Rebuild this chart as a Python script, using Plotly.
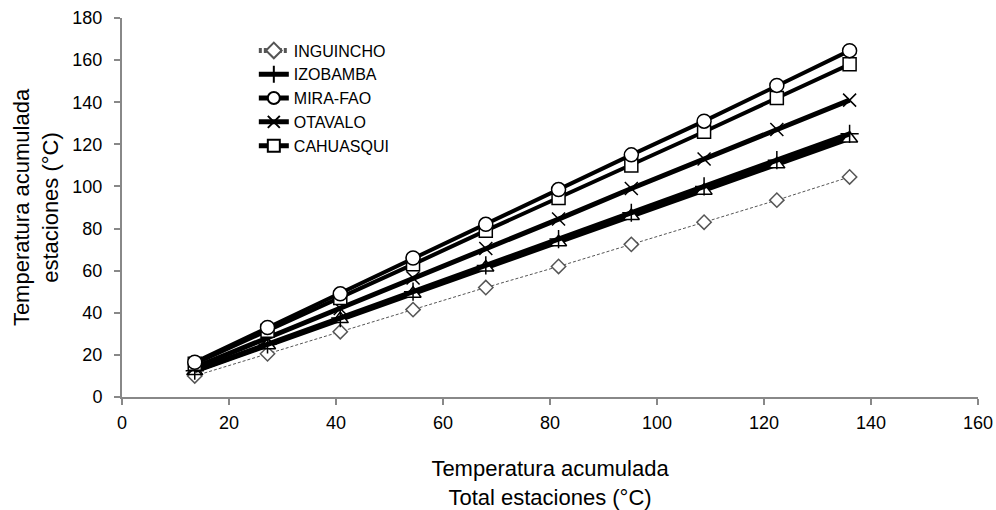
import plotly.graph_objects as go

x_vals = [13.6, 27.2, 40.8, 54.4, 68.0, 81.6, 95.2, 108.8, 122.4, 136.0]
inguincho = [10.0, 20.5, 31.0, 41.5, 52.0, 62.0, 72.5, 83.0, 93.5, 104.5]
izobamba = [12.5, 25.0, 37.5, 50.0, 62.5, 75.0, 87.5, 100.0, 112.5, 125.0]
mira_fao = [16.5, 33.0, 49.0, 66.0, 82.0, 98.5, 115.0, 131.0, 148.0, 164.5]
otavalo = [14.0, 28.0, 42.0, 56.5, 70.5, 84.5, 99.0, 113.0, 127.0, 141.0]
cahuasqui = [15.8, 31.5, 47.0, 63.0, 79.0, 94.5, 110.0, 126.0, 142.0, 158.0]
sexta = [12.3, 24.6, 37.0, 49.0, 61.5, 73.5, 86.0, 98.0, 110.5, 122.8]

fig = go.Figure()

def add(name, y, symbol, width, dash="solid", color="black", msize=11, show=True,
        fill="white", mcolor="black", rank=None):
    fig.add_trace(go.Scatter(
        x=x_vals, y=y, name=name, mode="lines+markers", showlegend=show,
        legendrank=rank if rank else 1000,
        line=dict(color=color, width=width, dash=dash),
        marker=dict(symbol=symbol, size=msize, color=fill,
                    line=dict(color=mcolor, width=1.5)),
    ))

add("INGUINCHO", inguincho, "diamond", 1, dash="3px,2px", color="#555555",
    msize=11, mcolor="#555555", rank=1)
add("", sexta, "triangle-up", 5, msize=14, show=False)
add("IZOBAMBA", izobamba, "cross-thin", 5, msize=13, rank=2)
add("OTAVALO", otavalo, "x-thin", 5, color="black", msize=13, rank=4)
add("CAHUASQUI", cahuasqui, "square", 4, msize=13, rank=5)
add("MIRA-FAO", mira_fao, "circle", 4, msize=14, rank=3)

fam = "Liberation Sans"
font = dict(family=fam, size=18, color="black")

fig.update_layout(
    width=996, height=510,
    margin=dict(l=122, r=18, t=18, b=113),
    plot_bgcolor="white", paper_bgcolor="white",
    font=font,
    showlegend=True,
    legend=dict(x=0.154, y=0.959, xanchor="left", yanchor="top",
                bgcolor="rgba(0,0,0,0)", font=dict(family=fam, size=16, color="black"),
                traceorder="normal", tracegroupgap=0, itemsizing="constant"),
    xaxis=dict(range=[0, 160], dtick=20, showgrid=False, zeroline=False,
               showline=True, linecolor="#888888", linewidth=2,
               ticks="outside", ticklen=6, tickcolor="#888888", tickwidth=2,
               automargin=False, ticklabelstandoff=2,
               title=dict(text="Temperatura acumulada<br>Total estaciones (°C)",
                          standoff=48)),
    yaxis=dict(range=[0, 180], dtick=20, showgrid=False, zeroline=False,
               showline=True, linecolor="#888888", linewidth=2,
               ticks="outside", ticklen=6, tickcolor="#888888", tickwidth=2,
               automargin=False, ticklabelstandoff=8,
               title=dict(text="Temperatura acumulada<br>estaciones (°C)",
                          standoff=8)),
)

fig.write_html("out.html", config={"displayModeBar": False},
               post_script="document.body.style.margin='0';")
